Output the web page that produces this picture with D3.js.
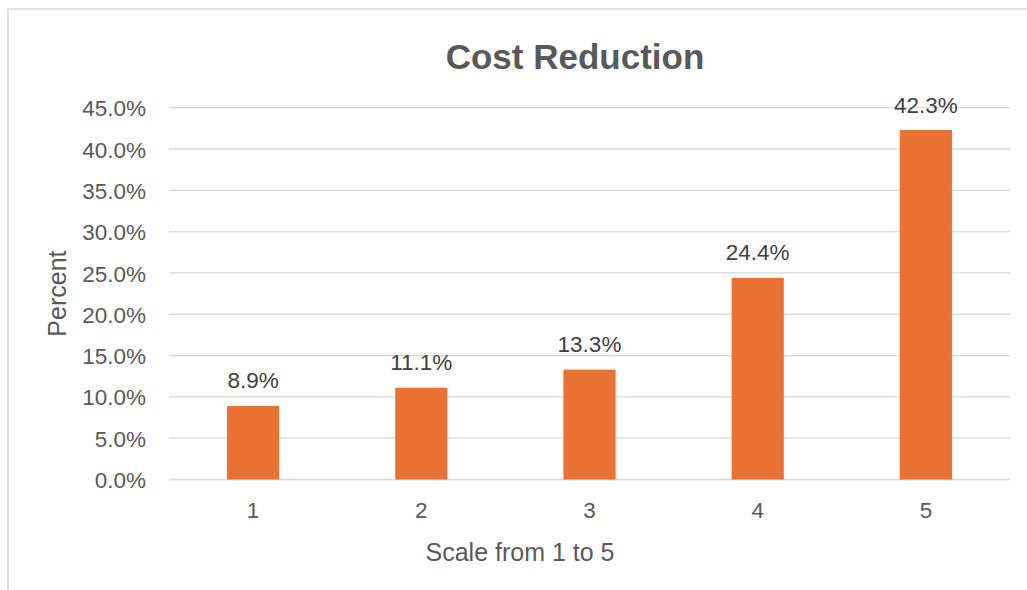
<!DOCTYPE html>
<html>
<head>
<meta charset="utf-8">
<script src="https://cdn.jsdelivr.net/npm/d3@7"></script>
<style>
  html, body { margin: 0; padding: 0; background: #fff; }
  svg { display: block; font-family: "Liberation Sans", Arial, sans-serif; }
</style>
</head>
<body>
<svg id="chart" width="1027" height="590"></svg>
<script>
// Survey responses: share of answers per rating
const categories = ["1", "2", "3", "4", "5"];
const percents = [8.9, 11.1, 13.3, 24.4, 42.3];
const yTicks = [0, 5, 10, 15, 20, 25, 30, 35, 40, 45];

const svg = d3.select("#chart");
const plot = { left: 169, right: 1010, top: 107.7, bottom: 479.5 };

// chart frame (extends past the right and bottom edges)
svg.append("rect")
  .attr("x", 8).attr("y", 9)
  .attr("width", 1200).attr("height", 700)
  .attr("fill", "#fff")
  .attr("stroke", "#D9D9D9")
  .attr("stroke-width", 1.5);

const x = d3.scaleBand()
  .domain(categories)
  .range([plot.left, plot.right])
  .paddingInner(0.69)
  .paddingOuter(0.345);

const y = d3.scaleLinear()
  .domain([0, 45])
  .range([plot.bottom, plot.top]);

// horizontal gridlines
svg.append("g")
  .selectAll("line")
  .data(yTicks)
  .join("line")
  .attr("x1", plot.left).attr("x2", plot.right)
  .attr("y1", d => y(d)).attr("y2", d => y(d))
  .attr("stroke", "#D9D9D9")
  .attr("stroke-width", 1.3);

// y axis labels
const yAxis = d3.axisLeft(y)
  .tickValues(yTicks)
  .tickFormat(d => d.toFixed(1) + "%")
  .tickSize(0)
  .tickPadding(0);
const yg = svg.append("g")
  .attr("transform", `translate(${plot.left - 23},0)`)
  .call(yAxis);
yg.select(".domain").remove();
yg.selectAll("text")
  .attr("fill", "#595959")
  .attr("font-size", 22.5)
  .attr("dy", "0.36em")
  .style("font-family", "'Liberation Sans', Arial, sans-serif");

// x axis labels
const xAxis = d3.axisBottom(x).tickSize(0).tickPadding(0);
const xg = svg.append("g")
  .attr("transform", `translate(0,${plot.bottom})`)
  .call(xAxis);
xg.select(".domain").remove();
xg.selectAll("text")
  .attr("fill", "#595959")
  .attr("font-size", 22.5)
  .attr("y", 38)
  .attr("dy", 0)
  .style("font-family", "'Liberation Sans', Arial, sans-serif");

// bars
svg.append("g")
  .selectAll("rect")
  .data(percents)
  .join("rect")
  .attr("x", (d, i) => x(categories[i]))
  .attr("width", x.bandwidth())
  .attr("y", d => y(d))
  .attr("height", d => y(0) - y(d))
  .attr("fill", "#E97132");

// value labels above bars
svg.append("g")
  .selectAll("text")
  .data(percents)
  .join("text")
  .attr("x", (d, i) => x(categories[i]) + x.bandwidth() / 2)
  .attr("y", d => y(d) - 17.5)
  .attr("text-anchor", "middle")
  .attr("font-size", 22.5)
  .attr("fill", "#404040")
  .text(d => d.toFixed(1) + "%");

// title
svg.append("text")
  .attr("x", 575).attr("y", 69)
  .attr("text-anchor", "middle")
  .attr("font-size", 35)
  .attr("font-weight", "bold")
  .attr("fill", "#595959")
  .text("Cost Reduction");

// axis titles
svg.append("text")
  .attr("x", 520).attr("y", 560.5)
  .attr("text-anchor", "middle")
  .attr("font-size", 25)
  .attr("fill", "#595959")
  .text("Scale from 1 to 5");

svg.append("text")
  .attr("transform", `translate(66,${(plot.top + plot.bottom) / 2}) rotate(-90)`)
  .attr("text-anchor", "middle")
  .attr("font-size", 25)
  .attr("fill", "#595959")
  .text("Percent");
</script>
</body>
</html>
